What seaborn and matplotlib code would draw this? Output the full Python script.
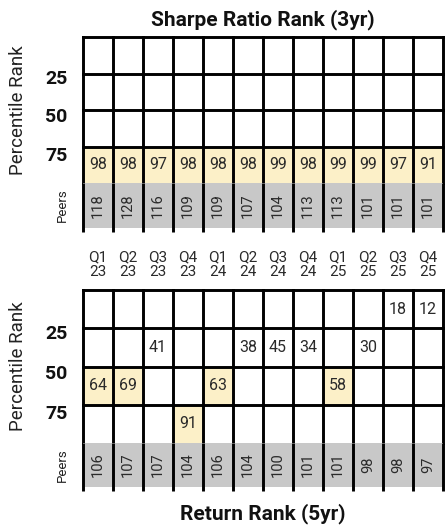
import numpy as np
import matplotlib
matplotlib.use("Agg")
import matplotlib.pyplot as plt
from matplotlib.colors import ListedColormap
import seaborn as sns

# veriler
quarters = ["Q1\n23", "Q2\n23", "Q3\n23", "Q4\n23",
            "Q1\n24", "Q2\n24", "Q3\n24", "Q4\n24",
            "Q1\n25", "Q2\n25", "Q3\n25", "Q4\n25"]
sharpe_rank = [98, 98, 97, 98, 98, 98, 99, 98, 99, 99, 97, 91]
sharpe_peers = [118, 128, 116, 109, 109, 107, 104, 113, 113, 101, 101, 101]
return_rank = [64, 69, 41, 91, 63, 38, 45, 34, 58, 30, 18, 12]
return_peers = [106, 107, 107, 104, 106, 104, 100, 101, 101, 98, 98, 97]
rank_labels = ["25", "50", "75"]

YELLOW = "#fcf0c8"
GRAY = "#c8c8c8"
TXT = "#2a2a2a"

sns.set_theme(style="white")
plt.rcParams["font.family"] = ["Roboto", "DejaVu Sans"]

W, H = 446, 526
fig = plt.figure(figsize=(W / 100, H / 100), dpi=100)


def box(top, bottom, left=83, right=443):
    return [left / W, 1 - bottom / H, (right - left) / W, (bottom - top) / H]


def rank_grid(ranks):
    # her çeyrek için sıralamanın düştüğü çeyreklik satırı
    color = np.zeros((4, len(ranks)))
    annot = np.full((4, len(ranks)), "", dtype=object)
    for j, r in enumerate(ranks):
        i = min(r // 25, 3)
        color[i, j] = 1 if r > 50 else 0
        annot[i, j] = str(r)
    return color, annot


def panel(ranks, peers, top, bottom, peers_bottom):
    ax_r = fig.add_axes(box(top, bottom))
    ax_p = fig.add_axes(box(bottom, peers_bottom))

    color, annot = rank_grid(ranks)
    sns.heatmap(color, annot=annot, fmt="", cmap=ListedColormap(["white", YELLOW]),
                vmin=0, vmax=1, cbar=False, ax=ax_r, linewidths=0,
                xticklabels=False, yticklabels=False,
                annot_kws=dict(fontsize=11.5, color=TXT))
    sns.heatmap(np.array([peers]), annot=True, fmt="d", cmap=ListedColormap([GRAY]),
                vmin=0, vmax=200, cbar=False, ax=ax_p, linewidths=0,
                xticklabels=False, yticklabels=False,
                annot_kws=dict(fontsize=10.5, color=TXT, rotation=90))

    n = len(ranks)
    lk = dict(colors="black", linewidths=2.1, clip_on=False)
    ax_r.hlines([0, 1, 2, 3], 0, n, capstyle="projecting", **lk)
    ax_r.vlines(range(n + 1), 0, 4, capstyle="projecting", **lk)
    ax_p.vlines(range(n + 1), 0, 1.09, capstyle="butt", **lk)

    ax_r.set_yticks([1.1, 2.15, 3.2])
    ax_r.set_yticklabels(rank_labels, rotation=0, fontsize=14, fontweight="bold", color="#111")
    ax_r.tick_params(axis="y", length=0, pad=11)
    ax_r.set_ylabel("Percentile Rank", fontsize=13.5, color="#222")
    ax_r.yaxis.set_label_coords(-0.155, 0.5)

    ax_p.set_ylabel("Peers", fontsize=9.5, color="#222")
    ax_p.yaxis.set_label_coords(-0.04, 0.5)
    return ax_r, ax_p


ax1, ax1p = panel(sharpe_rank, sharpe_peers, 37, 183, 228)
ax2, ax2p = panel(return_rank, return_peers, 290, 443, 487)

ax1.set_title("Sharpe Ratio Rank (3yr)", fontsize=15, fontweight="bold", pad=8, color="#111")

ax1p.set_xticks(np.arange(len(quarters)) + 0.5)
ax1p.set_xticklabels(quarters, rotation=0, fontsize=11, color=TXT, linespacing=1.1)
ax1p.tick_params(axis="x", length=0, pad=16)

ax2p.set_xlabel("Return Rank (5yr)", fontsize=15, fontweight="bold", labelpad=12, color="#111")

fig.savefig("out.png", dpi=100)
